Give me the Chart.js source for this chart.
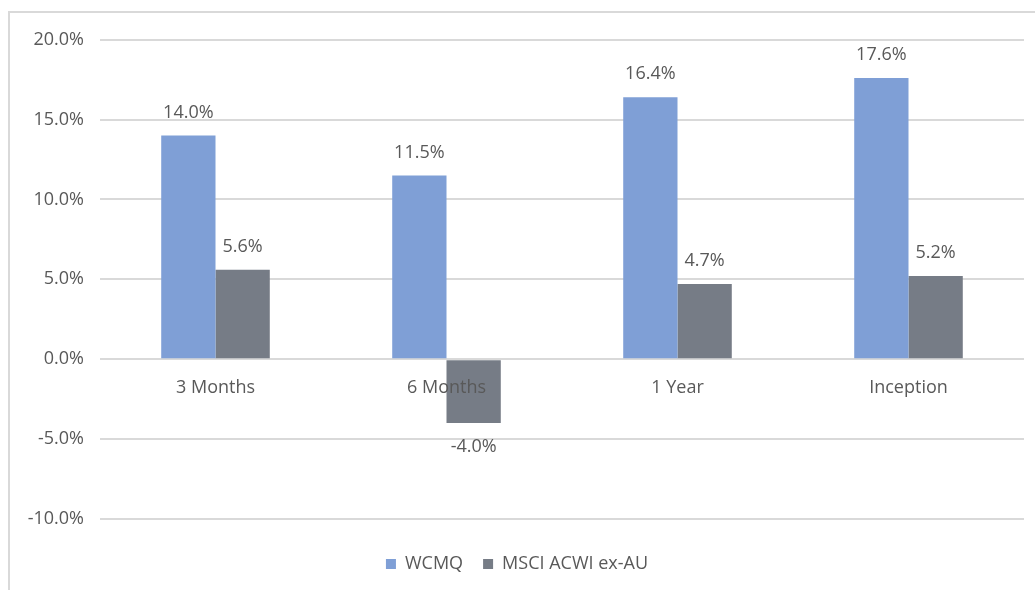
<!DOCTYPE html>
<html>
<head>
<meta charset="utf-8">
<script src="https://cdn.jsdelivr.net/npm/chart.js@4"></script>
<style>
  html, body { margin: 0; padding: 0; background: #fff; overflow: hidden; }
  #frame {
    position: absolute; left: 8px; top: 11px;
    width: 1040px; height: 600px;
    border: 2px solid #d9d9d9; box-sizing: border-box;
  }
  #wrap { position: absolute; left: 0; top: 0; width: 1025px; height: 577px; }
</style>
</head>
<body>
<div id="frame"><div id="wrap"><canvas id="perfChart"></canvas></div></div>
<script>
// chart data
const periods = ["3 Months", "6 Months", "1 Year", "Inception"];
const wcmqReturns = [14.0, 11.5, 16.4, 17.6];
const msciReturns = [5.6, -4.0, 4.7, 5.2];
const seriesNames = ["WCMQ", "MSCI ACWI ex-AU"];
const yTicks = [-10, -5, 0, 5, 10, 15, 20];

const textColor = "#595959";
const fontFamily = "'Open Sans', 'Liberation Sans', Arial, sans-serif";

// draws the value above (or below for negatives) each bar
const valueLabels = {
    id: "valueLabels",
    afterDatasetsDraw(chart) {
        const ctx = chart.ctx;
        ctx.save();
        ctx.font = "18px " + fontFamily;
        ctx.fillStyle = textColor;
        ctx.textAlign = "center";
        ctx.textBaseline = "middle";
        chart.data.datasets.forEach((ds, i) => {
            chart.getDatasetMeta(i).data.forEach((bar, j) => {
                const v = ds.data[j];
                const y = v >= 0 ? bar.y - 23 : bar.y + 24;
                ctx.fillText(v.toFixed(1) + "%", bar.x, y);
            });
        });
        ctx.restore();
    }
};

new Chart(document.getElementById("perfChart"), {
    type: "bar",
    data: {
        labels: periods,
        datasets: [
            { label: seriesNames[0], data: wcmqReturns, backgroundColor: "#7f9fd6" },
            { label: seriesNames[1], data: msciReturns, backgroundColor: "#767c86" }
        ]
    },
    options: {
        responsive: true,
        maintainAspectRatio: false,
        animation: false,
        datasets: { bar: { categoryPercentage: 0.47, barPercentage: 1.0 } },
        layout: { padding: { left: 0, right: 11, top: 22, bottom: 7 } },
        scales: {
            x: {
                position: { y: 0 },
                grid: { display: false },
                border: { display: false },
                ticks: { z: 1, color: textColor, font: { size: 18, family: fontFamily }, padding: 10 }
            },
            y: {
                min: -10,
                max: 20,
                afterBuildTicks: s => { s.ticks = yTicks.map(v => ({ value: v })); },
                afterFit: s => { s.width = 90; },
                grid: { color: "#d9d9d9", lineWidth: 2, drawTicks: false },
                border: { display: false },
                ticks: {
                    color: textColor,
                    padding: 16,
                    font: { size: 18, family: fontFamily },
                    callback: v => v.toFixed(1) + "%"
                }
            }
        },
        plugins: {
            legend: {
                position: "bottom",
                title: { display: true, text: "", padding: 7.5, font: { size: 1 } },
                labels: {
                    color: textColor,
                    font: { size: 18, family: fontFamily },
                    boxWidth: 10,
                    boxHeight: 10,
                    padding: 20
                }
            },
            tooltip: { enabled: false }
        }
    },
    plugins: [valueLabels]
});
</script>
</body>
</html>
